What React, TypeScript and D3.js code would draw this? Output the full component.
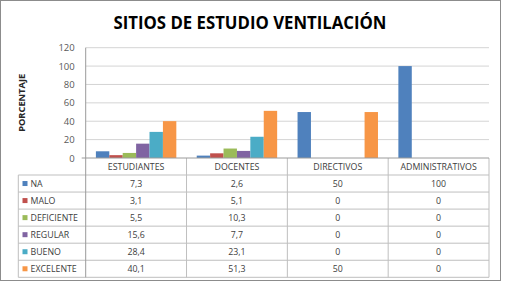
import React, { useEffect, useRef } from "react";
import * as d3 from "d3";

const categories = ["ESTUDIANTES", "DOCENTES", "DIRECTIVOS", "ADMINISTRATIVOS"];
const seriesNames = ["NA", "MALO", "DEFICIENTE", "REGULAR", "BUENO", "EXCELENTE"];
const seriesColors = ["#4F81BD", "#C0504D", "#9BBB59", "#8064A2", "#4BACC6", "#F79646"];

const na = [7.3, 2.6, 50, 100];
const malo = [3.1, 5.1, 0, 0];
const deficiente = [5.5, 10.3, 0, 0];
const regular = [15.6, 7.7, 0, 0];
const bueno = [28.4, 23.1, 0, 0];
const excelente = [40.1, 51.3, 50, 0];

const yTicks = [0, 20, 40, 60, 80, 100, 120];

const seriesValues = [na, malo, deficiente, regular, bueno, excelente];

const App = () => {
  const svgRef = useRef<SVGSVGElement>(null);
  const width = 505;
  const height = 282;

  useEffect(() => {
    const svg = d3.select(svgRef.current);
    svg.selectAll("*").remove();

    const font = "'Open Sans', sans-serif";
    const plotLeft = 85.7;
    const plotRight = 489;
    const plotTop = 47.7;
    const plotBottom = 158;
    const tableLeft = 18.3;
    const headerH = 17;
    const rowH = 17.05;
    const tableBottom = plotBottom + headerH + rowH * seriesNames.length;

    svg
      .append("rect")
      .attr("x", 0.5)
      .attr("y", 0.5)
      .attr("width", 500)
      .attr("height", 280)
      .attr("fill", "#fff")
      .attr("stroke", "#8c8c8c");

    svg
      .append("text")
      .attr("x", 250)
      .attr("y", 28.5)
      .attr("text-anchor", "middle")
      .attr("font-family", font)
      .attr("font-weight", "bold")
      .attr("font-size", 17)
      .attr("textLength", 273)
      .attr("lengthAdjust", "spacingAndGlyphs")
      .attr("fill", "#000")
      .text("SITIOS DE ESTUDIO VENTILACIÓN");

    const x0 = d3.scaleBand().domain(categories).range([plotLeft, plotRight]);
    const gap = 10.2;
    const x1 = d3
      .scaleBand()
      .domain(seriesNames)
      .range([gap, x0.bandwidth() - gap]);
    const y = d3.scaleLinear().domain([0, 120]).range([plotBottom, plotTop]);

    // gridlines
    svg
      .append("g")
      .selectAll("line")
      .data(yTicks.slice(1))
      .join("line")
      .attr("x1", plotLeft)
      .attr("x2", plotRight)
      .attr("y1", (d) => y(d))
      .attr("y2", (d) => y(d))
      .attr("stroke", "#d4d4d4")
      .attr("stroke-width", 1);

    // y axis labels
    const yAxis = d3
      .axisLeft(y)
      .tickValues(yTicks)
      .tickSize(0)
      .tickPadding(11);
    const yg = svg
      .append("g")
      .attr("transform", `translate(${plotLeft}, 0)`)
      .call(yAxis);
    yg.select(".domain").remove();
    yg.selectAll("text")
      .attr("font-family", font)
      .attr("font-size", 9.5)
      .attr("fill", "#595959");

    svg
      .append("text")
      .attr("transform", `translate(24.5, ${(plotTop + plotBottom) / 2}) rotate(-90)`)
      .attr("text-anchor", "middle")
      .attr("font-family", font)
      .attr("font-weight", "bold")
      .attr("font-size", 9)
      .attr("textLength", 58)
      .attr("lengthAdjust", "spacingAndGlyphs")
      .attr("fill", "#262626")
      .text("PORCENTAJE");

    // bars
    const groups = svg
      .append("g")
      .selectAll("g")
      .data(seriesNames)
      .join("g")
      .attr("fill", (d, i) => seriesColors[i]);
    groups
      .selectAll("rect")
      .data((s, i) => seriesValues[i].map((v, j) => ({ s, v, c: categories[j] })))
      .join("rect")
      .attr("x", (d) => (x0(d.c) as number) + (x1(d.s) as number))
      .attr("width", x1.bandwidth())
      .attr("y", (d) => y(d.v))
      .attr("height", (d) => plotBottom - y(d.v));

    // data table
    const table = svg.append("g").attr("stroke", "#bfbfbf").attr("stroke-width", 1);
    for (let i = 0; i <= seriesNames.length; i++) {
      const yy = plotBottom + headerH + i * rowH;
      table.append("line").attr("x1", tableLeft).attr("x2", plotRight).attr("y1", yy).attr("y2", yy);
    }
    table
      .append("line")
      .attr("x1", tableLeft)
      .attr("x2", tableLeft)
      .attr("y1", plotBottom + headerH)
      .attr("y2", tableBottom);
    categories.forEach((c) => {
      const xx = (x0(c) as number) + x0.bandwidth();
      table.append("line").attr("x1", xx).attr("x2", xx).attr("y1", plotBottom).attr("y2", tableBottom);
    });

    // axis lines
    svg
      .append("line")
      .attr("x1", plotLeft - 4)
      .attr("x2", plotRight)
      .attr("y1", plotBottom)
      .attr("y2", plotBottom)
      .attr("stroke", "#9a9a9a");
    svg
      .append("line")
      .attr("x1", plotLeft)
      .attr("x2", plotLeft)
      .attr("y1", plotTop)
      .attr("y2", tableBottom)
      .attr("stroke", "#9a9a9a");

    svg
      .append("g")
      .selectAll("text")
      .data(categories)
      .join("text")
      .attr("x", (d) => (x0(d) as number) + x0.bandwidth() / 2)
      .attr("y", plotBottom + headerH / 2 + 3.2)
      .attr("text-anchor", "middle")
      .attr("font-family", font)
      .attr("font-size", 8.8)
      .attr("fill", "#404040")
      .text((d) => d);

    const fmt = (v: number) => String(v).replace(".", ",");
    seriesNames.forEach((s, i) => {
      const cy = plotBottom + headerH + i * rowH + rowH / 2;
      svg
        .append("rect")
        .attr("x", 22.5)
        .attr("y", cy - 2.5)
        .attr("width", 5)
        .attr("height", 5)
        .attr("fill", seriesColors[i]);
      svg
        .append("text")
        .attr("x", 30.5)
        .attr("y", cy + 3.2)
        .attr("font-family", font)
        .attr("font-size", 8.8)
        .attr("fill", "#404040")
        .text(s);
      svg
        .append("g")
        .selectAll("text")
        .data(seriesValues[i])
        .join("text")
        .attr("x", (d, j) => (x0(categories[j]) as number) + x0.bandwidth() / 2)
        .attr("y", cy + 3.2)
        .attr("text-anchor", "middle")
        .attr("font-family", font)
        .attr("font-size", 8.8)
        .attr("fill", "#404040")
        .text((d) => fmt(d));
    });
  }, []);

  return (
    <svg
      ref={svgRef}
      width={width}
      height={height}
      style={{ position: "absolute", left: 0, top: 0, background: "#fff" }}
    ></svg>
  );
};

export default App;
